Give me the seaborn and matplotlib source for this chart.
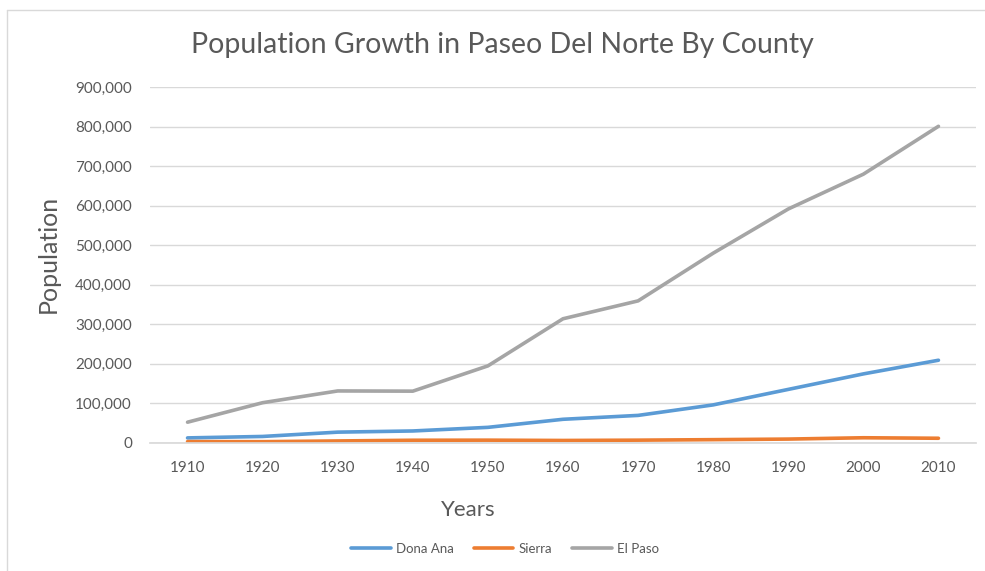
import matplotlib
matplotlib.use("Agg")
import matplotlib.pyplot as plt
import matplotlib.ticker as mticker
from matplotlib.lines import Line2D
import pandas as pd
import seaborn as sns

# Census population by county, 1910-2010
years = [1910, 1920, 1930, 1940, 1950, 1960, 1970, 1980, 1990, 2000, 2010]
dona_ana = [12893, 16548, 27455, 30411, 39557, 59948, 69773, 96340, 135510, 174682, 209233]
sierra = [3536, 3322, 5184, 6962, 7186, 6409, 7189, 8454, 9912, 13270, 11988]
el_paso = [52599, 101877, 131597, 131067, 194968, 314070, 359291, 479899, 591610, 679622, 800647]

series_names = ["Dona Ana", "Sierra", "El Paso"]
series_colors = ["#5B9BD5", "#ED7D31", "#A5A5A5"]

df = pd.DataFrame({"Year": years, "Dona Ana": dona_ana, "Sierra": sierra, "El Paso": el_paso})
long = df.melt(id_vars="Year", var_name="County", value_name="Population")

sns.set_theme(style="white")
plt.rcParams["font.family"] = ["Lato", "DejaVu Sans"]

text_grey = "#595959"
fig = plt.figure(figsize=(9.85, 5.71), dpi=100)
ax = fig.add_axes([150 / 985, 1 - 443 / 571, 826 / 985, (443 - 87) / 571])

sns.lineplot(data=long, x="Year", y="Population", hue="County",
             hue_order=series_names, palette=series_colors,
             linewidth=2.6, ax=ax, legend=True)

ax.set_xlim(1905, 2015)
ax.set_ylim(0, 900000)
ax.set_xticks(years)
ax.set_yticks(range(0, 900001, 100000))
ax.yaxis.set_major_formatter(mticker.FuncFormatter(lambda v, p: f"{int(v):,}"))
ax.grid(axis="y", color="#D9D9D9", linewidth=1)
ax.set_axisbelow(True)
for side in ["top", "right", "left"]:
    ax.spines[side].set_visible(False)
ax.spines["bottom"].set_color("#D9D9D9")
ax.tick_params(axis="both", length=0, labelsize=11, labelcolor=text_grey)
ax.tick_params(axis="y", pad=13)
ax.tick_params(axis="x", pad=13)

ax.set_xlabel("Years", fontsize=16, color=text_grey)
ax.set_ylabel("Population", fontsize=18, color=text_grey)
ax.xaxis.set_label_coords(468 / 985, 1 - 510 / 571, transform=fig.transFigure)
ax.xaxis.label.set_va("center")
ax.yaxis.set_label_coords(48 / 985, 1 - 254 / 571, transform=fig.transFigure)
ax.yaxis.label.set_va("center")

fig.suptitle("Population Growth in Paseo Del Norte By County",
             x=502 / 985, y=1 - 45 / 571, va="center", fontsize=20.5, color=text_grey)

handles, labels = ax.get_legend_handles_labels()
ax.legend(handles, labels, loc="center", bbox_to_anchor=(505 / 985, 1 - 549 / 571),
          bbox_transform=fig.transFigure, ncol=3, frameon=False, fontsize=9.5,
          labelcolor=text_grey, handlelength=3, columnspacing=1.5, handletextpad=0.4)

# chart frame edges (left and top)
frame_kw = dict(transform=fig.transFigure, color="#D9D9D9", linewidth=1)
fig.add_artist(Line2D([7 / 985, 7 / 985], [0, 1 - 10 / 571], **frame_kw))
fig.add_artist(Line2D([7 / 985, 1], [1 - 10 / 571, 1 - 10 / 571], **frame_kw))

fig.savefig("out.png", dpi=100)
